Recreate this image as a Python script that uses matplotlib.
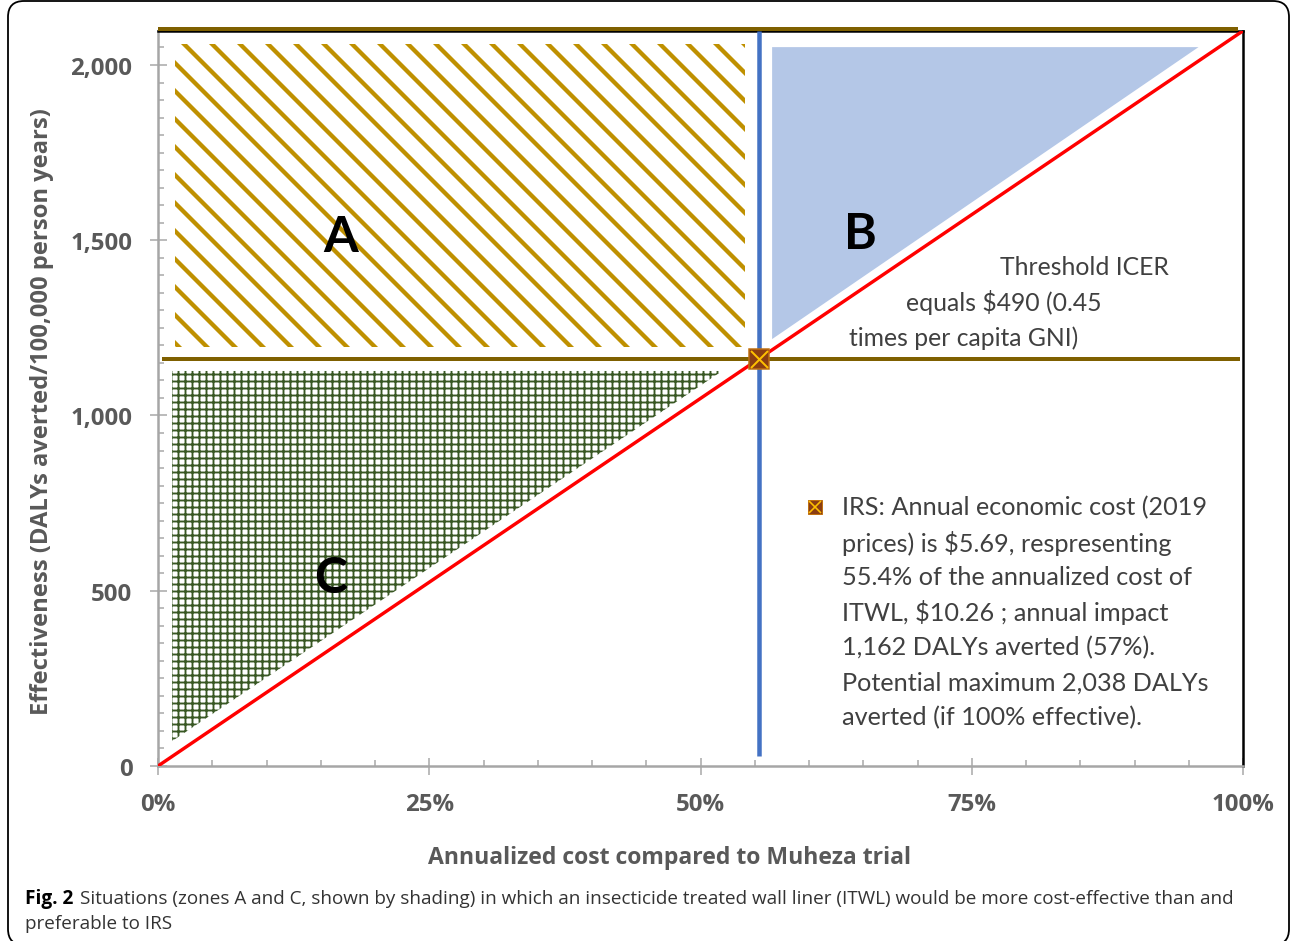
import numpy as np
import matplotlib
matplotlib.use("Agg")
import matplotlib.pyplot as plt
from matplotlib.patches import Polygon, Rectangle, FancyBboxPatch
from matplotlib.ticker import MultipleLocator, FuncFormatter
import matplotlib.transforms as mtransforms

DPI = 84
W, H = 1292, 942

def px(v):
    # pixels -> points
    return v * 72.0 / DPI

# --- data ---
irs_cost_share = 55.4      # % of ITWL annualized cost
irs_dalys = 1162           # DALYs averted by IRS
y_top = 2097               # axis top (line through IRS point at 100%)
icer_x = [0, 100]
icer_y = [0, irs_dalys / irs_cost_share * 100]
blue_y = [28, 2097]
top_line_y = 2102

zone_a_x = [1.6, 54.1]
zone_a_y = [1195, 2060]
zone_b_x = [56.6, 95.9, 56.6]
zone_b_y = [2051, 2051, 1218]
zone_c_x = [1.3, 52.0, 1.3]
zone_c_y = [1127, 1127, 71]

zone_labels = ["A", "B", "C"]
zone_label_x = [16.8, 64.7, 15.9]
zone_label_y = [1512, 1518, 539]

threshold_lines = ["Threshold ICER", "equals $490 (0.45", "times per capita GNI)"]
threshold_x = [77.6, 68.9, 63.7]
threshold_y = [1424, 1324, 1224]

irs_lines = ["IRS: Annual economic cost (2019",
             "prices) is $5.69, respresenting",
             "55.4% of the annualized cost of",
             "ITWL, $10.26 ; annual impact",
             "1,162 DALYs averted (57%).",
             "Potential maximum 2,038 DALYs",
             "averted (if 100% effective)."]

GOLD = "#BF9000"
BROWN = "#7F6000"
GREEN = "#385723"
LBLUE = "#B4C7E7"
BLUE = "#4472C4"
RED = "#FF0000"
GRAY = "#A6A6A6"
TXT = "#595959"
NOTE = "#404040"

fig = plt.figure(figsize=(W / DPI, H / DPI), dpi=DPI)
ax = fig.add_axes([158 / W, (942 - 767) / H, 1085 / W, 735 / H])
ax.set_xlim(0, 100)
ax.set_ylim(0, y_top)

# zones
HW_A, HW_C = px(4.3), px(1.9)
plt.rcParams["hatch.linewidth"] = HW_A
pa = Rectangle((zone_a_x[0], zone_a_y[0]), zone_a_x[1] - zone_a_x[0], zone_a_y[1] - zone_a_y[0],
               facecolor="white", edgecolor=GOLD, hatch="\\", linewidth=0, zorder=1)
ax.add_patch(pa)
plt.rcParams["hatch.linewidth"] = HW_C
pc = Polygon(np.column_stack([zone_c_x, zone_c_y]), closed=True, facecolor="white",
             edgecolor=GREEN, hatch="++", linewidth=0, zorder=1)
ax.add_patch(pc)
if hasattr(pa, "set_hatch_linewidth"):
    pa.set_hatch_linewidth(HW_A)
    pc.set_hatch_linewidth(HW_C)
ax.add_patch(Polygon(np.column_stack([zone_b_x, zone_b_y]), closed=True,
                     facecolor=LBLUE, edgecolor="none", zorder=1))

# lines
ax.plot(icer_x, icer_y, color=RED, lw=px(3.4), zorder=4, solid_capstyle="butt")
ax.hlines(irs_dalys, 0.4, 99.7, color=BROWN, lw=px(4), zorder=3)
ax.hlines(top_line_y, 0, 99.5, color=BROWN, lw=px(4), zorder=6, clip_on=False)
ax.vlines(irs_cost_share, blue_y[0], blue_y[1], color=BLUE, lw=px(4.5), zorder=5)

# IRS point
ax.plot(irs_cost_share, irs_dalys, marker="s", ms=px(20), color="#8B3E12",
        mec="#C07010", mew=px(1.5), zorder=7)
ax.plot(irs_cost_share, irs_dalys, marker="x", ms=px(17), color="#FFC000", mew=px(2), zorder=8)

# zone letters
for lab, lx, ly in zip(zone_labels, zone_label_x, zone_label_y):
    ax.text(lx, ly, lab, fontsize=px(50), fontweight="bold", family="Lato",
            ha="center", va="center", color="black", zorder=9)

for t, tx, ty in zip(threshold_lines, threshold_x, threshold_y):
    ax.text(tx, ty, t, fontsize=px(24.8), family="Lato", color=NOTE, ha="left", va="center")

# IRS legend-like note
lx0, ly0 = (815 - 158) / 1085, (767 - 508) / 735
ax.plot(lx0, ly0, marker="s", ms=px(14), color="#8B3E12", mec="#C07010", mew=px(1),
        transform=ax.transAxes, clip_on=False)
ax.plot(lx0, ly0, marker="x", ms=px(12), color="#FFC000", mew=px(1.6),
        transform=ax.transAxes, clip_on=False)
for i, t in enumerate(irs_lines):
    ax.text((842 - 158) / 1085, ly0 - i * 35 / 735, t, transform=ax.transAxes,
            fontsize=px(25.2), family="Lato", color=NOTE, ha="left", va="center")

# spines and ticks
for s in ["left", "bottom"]:
    ax.spines[s].set_color(GRAY)
    ax.spines[s].set_linewidth(px(2.5))
for s in ["right", "top"]:
    ax.spines[s].set_color("black")
    ax.spines[s].set_linewidth(px(2.5))

ax.xaxis.set_major_locator(MultipleLocator(25))
ax.xaxis.set_minor_locator(MultipleLocator(5))
ax.yaxis.set_major_locator(MultipleLocator(500))
ax.yaxis.set_minor_locator(MultipleLocator(50))
ax.xaxis.set_major_formatter(FuncFormatter(lambda v, p: f"{v:.0f}%"))
ax.yaxis.set_major_formatter(FuncFormatter(lambda v, p: f"{v:,.0f}"))
ax.tick_params(which="major", direction="inout", length=px(17), width=px(1.5), color=GRAY,
               labelsize=px(24), labelcolor=TXT)
ax.tick_params(which="minor", direction="in", length=px(6), width=px(1.5), color=GRAY)
ax.tick_params(axis="y", which="major", pad=px(17))
ax.tick_params(axis="x", which="major", pad=px(18))
for lab in ax.get_xticklabels() + ax.get_yticklabels():
    lab.set_fontweight("bold")
    lab.set_family("Open Sans")

ax.text(0.471, (767 - 858) / 735, "Annualized cost compared to Muheza trial", transform=ax.transAxes,
        ha="center", va="center", fontsize=px(23), fontweight="bold", family="Open Sans", color=TXT)
ax.text((42 - 158) / 1085, (767 - 412) / 735, "Effectiveness (DALYs averted/100,000 person years)",
        transform=ax.transAxes, rotation=90, ha="center", va="center", fontsize=px(23.8),
        fontweight="bold", family="Open Sans", color=TXT)

# outer frame
frame = FancyBboxPatch((8, -4), 1281, 944, boxstyle="round,pad=0,rounding_size=16",
                       transform=mtransforms.IdentityTransform(), facecolor="none",
                       edgecolor="black", lw=px(1.8))
fig.patches.append(frame)

# caption
cap_bold = fig.text(25 / W, 1 - 899 / H, "Fig. 2", fontsize=px(19), fontweight="bold",
                    family="Open Sans", color="black", va="center", ha="left")
fig.canvas.draw()
bb = cap_bold.get_window_extent()
fig.text((bb.x1 + 7) / W, 1 - 899 / H,
         "Situations (zones A and C, shown by shading) in which an insecticide treated wall liner (ITWL) would be more cost-effective than and",
         fontsize=px(18.9), family="Open Sans", color="#333333", va="center", ha="left")
fig.text(25 / W, 1 - 924 / H, "preferable to IRS", fontsize=px(18.9), family="Open Sans",
         color="#333333", va="center", ha="left")

fig.savefig("out.png", dpi=DPI)
